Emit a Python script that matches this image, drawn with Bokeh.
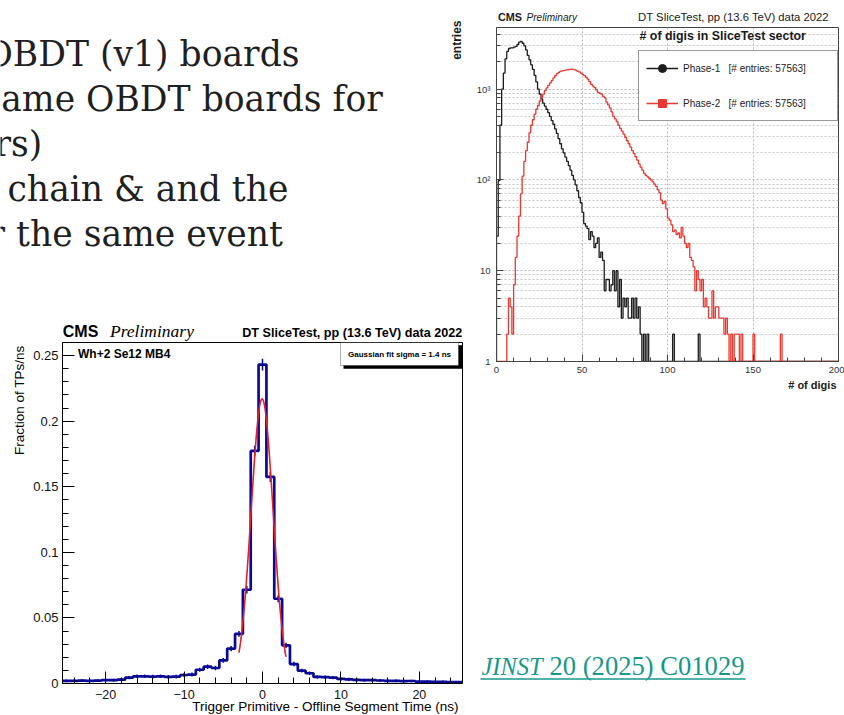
import math
import numpy as np
from bokeh.plotting import figure
from bokeh.layouts import column
from bokeh.models import (Range1d, Legend, LegendItem, BoxAnnotation, GridBox,
                          SingleIntervalTicker, FixedTicker, CustomJSTickFormatter,
                          ColumnDataSource)
from bokeh.core.properties import value
from bokeh.embed import file_html
from bokeh.resources import INLINE

# ---------------- slide text ----------------
slide_lines = ["OBDT (v1) boards", "same OBDT boards for", "rs)", "chain & and the", "r the same event"]
ref_italic = "JINST"
ref_rest = "20 (2025) C01029"

# ---------------- right chart: number of digis ----------------
digi_lo, digi_hi = 0, 200
phase1_counts = [
    24, 98, 400, 1000, 1500, 2150, 2600, 2800, 2850, 2850,
    2900, 2950, 3100, 3300, 3350, 3200, 3000, 2700, 2350, 2100,
    1850, 1650, 1420, 1200, 1000, 880, 780, 700, 650, 600,
    550, 500, 450, 410, 365, 325, 285, 250, 220, 198,
    178, 160, 144, 128, 112, 100, 88, 76, 64, 56,
    44, 33, 31, 29, 22, 27, 24, 18, 20, 23,
    14, 16, 13, 6, 8, 8, 6, 7, 10, 6,
    10, 4, 8, 3, 5, 4, 5, 3, 3, 5,
    3, 5, 3, 4, 2, 0, 2, 0, 2, 0,
    0, 0, 0, 0, 0, 0, 0, 0, 0, 0,
    0, 0, 0, 2, 0, 0, 0, 0, 0, 0,
    0, 0, 0, 0, 0, 0, 0, 0, 2, 0,
    0, 0, 0, 0, 0, 0, 0, 0, 0, 0,
    0, 0, 0, 0, 0, 0, 0, 0, 0, 0,
    0, 0, 0, 0, 0, 0, 0, 0, 0, 0,
    0, 0, 0, 0, 0, 0, 0, 0, 0, 0,
    0, 0, 0, 0, 0, 0, 0, 0, 0, 0,
    0, 0, 0, 0, 0, 0, 0, 0, 0, 0,
    0, 0, 0, 0, 0, 0, 0, 0, 0, 0,
    0, 0, 0, 0, 0, 0, 0, 0, 0, 0,
]
phase2_counts = [
    0, 0, 0, 0, 0, 0, 2, 5, 4, 2,
    7, 14, 24, 40, 70, 110, 160, 210, 260, 330,
    400, 460, 530, 600, 660, 740, 810, 880, 960, 1030,
    1100, 1170, 1240, 1330, 1410, 1480, 1530, 1570, 1590, 1600,
    1620, 1630, 1640, 1650, 1660, 1640, 1620, 1580, 1550, 1500,
    1450, 1410, 1350, 1290, 1210, 1130, 1080, 1040, 980, 920,
    900, 880, 830, 800, 720, 670, 620, 560, 500, 470,
    440, 400, 370, 345, 320, 295, 270, 250, 230, 210,
    195, 180, 165, 150, 138, 128, 118, 112, 108, 104,
    100, 95, 90, 85, 78, 72, 60, 55, 58, 48,
    38, 36, 32, 27, 28, 25, 26, 23, 30, 24,
    20, 18, 20, 14, 13, 11, 6, 10, 8, 6,
    8, 4, 5, 4, 3, 3, 6, 3, 4, 4,
    3, 3, 3, 2, 3, 2, 0, 2, 0, 2,
    2, 2, 0, 2, 0, 0, 0, 0, 0, 0,
    2, 0, 0, 0, 0, 0, 0, 0, 0, 0,
    0, 0, 0, 0, 0, 0, 2, 0, 0, 0,
    0, 0, 0, 0, 0, 0, 0, 0, 0, 0,
    0, 0, 0, 0, 0, 0, 0, 0, 0, 0,
    0, 0, 0, 0, 0, 0, 0, 0, 0, 0,
]
phase_labels = ["Phase-1   [# entries: 57563]", "Phase-2   [# entries: 57563]"]
right_title = "# of digis in SliceTest sector"
header_text = "DT SliceTest, pp (13.6 TeV) data 2022"
right_xlabel = "# of digis"
right_ylabel = "entries"
log_major = [1, 10, 100, 1000]
log_top = 4770

# ---------------- left chart: TP - segment time ----------------
dt_centers = list(range(-25, 26))
dt_fraction = [
    0.0020, 0.0020, 0.0022, 0.0020, 0.0022, 0.0025, 0.0025, 0.0030, 0.0045, 0.0055,
    0.0055, 0.0052, 0.0055, 0.0050, 0.0052, 0.0065, 0.0068, 0.0105, 0.0128, 0.0118,
    0.0177, 0.0266, 0.0378, 0.0715, 0.1773, 0.2432, 0.1575, 0.0646, 0.0291, 0.0148,
    0.0098, 0.0078, 0.0050, 0.0048, 0.0045, 0.0035, 0.0032, 0.0027, 0.0025, 0.0025,
    0.0023, 0.0020, 0.0020, 0.0018, 0.0019, 0.0014, 0.0015, 0.0013, 0.0012, 0.0010,
    0.0010,
]
dt_error = [
    0.0010, 0.0010, 0.0010, 0.0010, 0.0010, 0.0012, 0.0012, 0.0012, 0.0013, 0.0014,
    0.0014, 0.0014, 0.0014, 0.0014, 0.0014, 0.0015, 0.0015, 0.0016, 0.0017, 0.0017,
    0.0018, 0.0020, 0.0022, 0.0028, 0.0040, 0.0045, 0.0038, 0.0026, 0.0020, 0.0017,
    0.0015, 0.0014, 0.0013, 0.0013, 0.0013, 0.0012, 0.0012, 0.0012, 0.0011, 0.0011,
    0.0011, 0.0010, 0.0010, 0.0010, 0.0010, 0.0010, 0.0010, 0.0010, 0.0010, 0.0010,
    0.0010,
]
fit_amp, fit_mean, fit_sigma = 0.217, -0.05, 1.4
fit_lo, fit_hi = -3.0, 3.0
left_tag = "Wh+2 Se12 MB4"
fit_text = "Gaussian fit sigma = 1.4 ns"
left_xlabel = "Trigger Primitive - Offline Segment Time (ns)"
left_ylabel = "Fraction of TPs/ns"

# ---------------- styling ----------------
PAGE_W, PAGE_H = 844, 715
SANS = "Liberation Sans"
SERIF = "Liberation Serif"
TEAL = "#16988a"
BLUE = "#0a0a96"
FIT_RED = "#e3222b"
P1_COL = "#1c1c1c"
P2_COL = "#e8382f"
BASELINE_EM = 0.37   # measured offset of the rendered baseline below the anchor


def base_fig(**kw):
    f = figure(toolbar_location=None, output_backend="svg", **kw)
    f.title.visible = False
    f.border_fill_alpha = 0
    return f


# ================= right chart =================
RL, RR, RT, RB = 496, 838, 27, 361          # frame edges on the page
R_X, R_Y = 448, 0                            # figure origin on the page
rf = base_fig(width=PAGE_W - R_X, height=408, x_range=Range1d(digi_lo, digi_hi),
              y_range=Range1d(1, log_top), y_axis_type="log",
              min_border_left=RL - R_X, min_border_right=PAGE_W - RR,
              min_border_top=RT - R_Y, min_border_bottom=408 - RB)
rf.outline_line_color = "#444444"

edges = list(range(digi_lo, digi_hi + 1))
for counts, col in ((phase1_counts, P1_COL), (phase2_counts, P2_COL)):
    shown = [max(c, 1) for c in counts]
    rf.step(x=[edges[0]] + edges, y=[1] + shown + [shown[-1]], mode="after",
            line_color=col, line_width=1.3)

rf.xaxis.ticker = SingleIntervalTicker(interval=50, num_minor_ticks=5)
rf.yaxis.ticker = FixedTicker(ticks=log_major,
                              minor_ticks=[m * t for t in log_major for m in range(2, 10) if m * t < log_top])
rf.yaxis.formatter = CustomJSTickFormatter(code="""
const e = Math.round(Math.log10(tick));
if (e == 0) return "1";
if (e == 1) return "10";
const sup = {2: "\u00b2", 3: "\u00b3", 4: "\u2074"};
return "10" + sup[e];
""")
for ax in (rf.xaxis[0], rf.yaxis[0]):
    ax.major_tick_in = 7
    ax.major_tick_out = 0
    ax.minor_tick_in = 4
    ax.minor_tick_out = 0
    ax.axis_line_color = "#444444"
    ax.major_tick_line_color = "#444444"
    ax.minor_tick_line_color = "#444444"
    ax.major_label_text_font = SANS
    ax.major_label_text_font_size = "9.5px"
    ax.major_label_text_color = "#333333"
rf.xaxis.major_label_standoff = 5
rf.yaxis.major_label_standoff = 6
rf.xgrid.grid_line_color = "#b8b8b8"
rf.xgrid.grid_line_dash = "2 2"
rf.ygrid.grid_line_color = "#b8b8b8"
rf.ygrid.grid_line_dash = "2 2"
rf.ygrid.minor_grid_line_color = "#c4c4c4"
rf.ygrid.minor_grid_line_dash = "2 2"

# legend proxies: one point each, outside the visible ranges
proxy = ColumnDataSource(data=dict(x=[digi_lo - 50], y=[0.1]))
k_line = rf.line("x", "y", source=proxy, line_color=P1_COL, line_width=1.3)
k_mark = rf.scatter("x", "y", source=proxy, marker="circle", size=4.5, fill_color=P1_COL, line_color=P1_COL)
r_line = rf.line("x", "y", source=proxy, line_color=P2_COL, line_width=1.3)
r_mark = rf.scatter("x", "y", source=proxy, marker="square", size=4.5, fill_color=P2_COL, line_color=P2_COL)
legend = Legend(items=[LegendItem(label=phase_labels[0], renderers=[k_line, k_mark]),
                       LegendItem(label=phase_labels[1], renderers=[r_line, r_mark])],
                location=(638 - RL, RB - 121), padding=7, spacing=15, margin=0,
                glyph_width=32, glyph_height=20, label_height=20, label_width=147,
                label_standoff=5, label_text_font=SANS, label_text_font_size="10px",
                label_text_color="#222222", border_line_color="#333333", border_line_width=1,
                background_fill_color="white", background_fill_alpha=1)
rf.add_layout(legend, "center")

# ================= left chart =================
LL, LR, LT, LB = 62, 462, 342, 683
L_X, L_Y = 0, 312
X0, X1, Y0, Y1 = -25.5, 25.5, 0.0, 0.26
lf = base_fig(width=478, height=PAGE_H - L_Y, x_range=Range1d(X0, X1), y_range=Range1d(Y0, Y1),
              min_border_left=LL - L_X, min_border_right=478 - LR,
              min_border_top=LT - L_Y, min_border_bottom=PAGE_H - LB)
lf.outline_line_color = "black"
lf.grid.visible = False


def lx(px):
    return X0 + (px - LL) / (LR - LL) * (X1 - X0)


def ly(py):
    return Y0 + (LB - py) / (LB - LT) * (Y1 - Y0)


l_edges = [c - 0.5 for c in dt_centers] + [dt_centers[-1] + 0.5]
lf.step(x=l_edges, y=dt_fraction + [dt_fraction[-1]], mode="after", line_color=BLUE, line_width=2.7)
lf.segment(x0=dt_centers, x1=dt_centers,
           y0=[v - e for v, e in zip(dt_fraction, dt_error)],
           y1=[v + e for v, e in zip(dt_fraction, dt_error)],
           line_color=BLUE, line_width=1.5)
fx = np.linspace(fit_lo, fit_hi, 161)
fy = fit_amp * np.exp(-0.5 * ((fx - fit_mean) / fit_sigma) ** 2)
lf.line(fx, fy, line_color=FIT_RED, line_width=1.6)

lf.xaxis.ticker = SingleIntervalTicker(interval=10, num_minor_ticks=5)
lf.yaxis.ticker = SingleIntervalTicker(interval=0.05, num_minor_ticks=5)
lf.xaxis.formatter = CustomJSTickFormatter(
    code="return tick < 0 ? '\u2212' + Math.abs(tick) : String(tick);")
lf.yaxis.formatter = CustomJSTickFormatter(code="return String(Math.round(tick * 100) / 100);")
for ax in (lf.xaxis[0], lf.yaxis[0]):
    ax.major_tick_in = 12
    ax.major_tick_out = 0
    ax.minor_tick_in = 6
    ax.minor_tick_out = 0
    ax.axis_line_color = "black"
    ax.major_tick_line_color = "black"
    ax.minor_tick_line_color = "black"
    ax.major_label_text_font = SANS
    ax.major_label_text_color = "#111111"
lf.xaxis.major_label_text_font_size = "12.5px"
lf.yaxis.major_label_text_font_size = "13px"
lf.xaxis.major_label_standoff = 6
lf.yaxis.major_label_standoff = 4

# fit-result box with ROOT-style shadow
lf.add_layout(BoxAnnotation(left=lx(343), right=lx(461.5), top=ly(344.7), bottom=ly(368.3),
                            fill_color="black", fill_alpha=1, line_color="black", line_width=0))
lf.add_layout(BoxAnnotation(left=lx(340), right=lx(458), top=ly(342), bottom=ly(365),
                            fill_color="white", fill_alpha=1, line_color="black", line_width=1))

# ================= page overlay: all free-standing texts =================
ov = base_fig(width=PAGE_W, height=PAGE_H, x_range=Range1d(0, PAGE_W), y_range=Range1d(0, PAGE_H),
              x_axis_type=None, y_axis_type=None, min_border=0, outline_line_color=None)
ov.background_fill_alpha = 0


def put(x, y, text, font=SANS, size=12.0, style="normal", color="#111111",
        align="left", angle=0.0):
    """x, y: page position of the text baseline start (or end/centre per align)."""
    shift = BASELINE_EM * size
    if angle:
        x = x - shift
    else:
        y = y - shift
    ov.text(x=[x], y=[PAGE_H - y], text=[text], text_font=value(font), text_font_size=f"{size}px",
            text_font_style=style, text_color=color, text_align=align,
            text_baseline="alphabetic", angle=angle)


# slide bullets (clipped at the left page edge, as in the slide)
for tx, ty, line in zip([-16, -17, -6, 7, -12], [66, 111.5, 156.5, 201.5, 246.5], slide_lines):
    put(tx, ty, line, font="DejaVu Serif", size=34.6, color="#1f1f1f")

# reference link
put(481, 675, ref_italic, font=SERIF, size=24.5, style="italic", color=TEAL)
put(549, 675, ref_rest, font=SERIF, size=26.6, color=TEAL)
ov.segment(x0=[480], x1=[745], y0=[PAGE_H - 678.5], y1=[PAGE_H - 678.5], line_color=TEAL, line_width=1.6)

# right chart texts
put(497.5, 20.5, "CMS", size=10.8, style="bold", color="#1a1a1a")
put(526, 20.5, "Preliminary", size=10.1, style="italic", color="#1a1a1a")
put(828.5, 20.5, header_text, size=11.3, color="#1a1a1a", align="right")
put(639, 40.5, right_title, size=12.4, style="bold", color="#1a1a1a")
put(836, 389, right_xlabel, size=11, style="bold", color="#1a1a1a", align="right")
put(461, 20, right_ylabel, size=12, style="bold", color="#1a1a1a", align="right", angle=math.pi / 2)

# left chart texts
put(62.3, 336.7, "CMS", size=16, style="bold", color="black")
put(109.5, 336.7, "Preliminary", font=SERIF, size=17.5, style="italic", color="black")
put(461.7, 336.7, header_text, size=12.6, style="bold", color="black", align="right")
put(77.5, 357.5, left_tag, size=12, style="bold", color="black")
put(399, 356.5, fit_text, size=8, style="bold", color="black", align="center")
put(458.3, 710.5, left_xlabel, size=13.5, color="black", align="right")
put(24, 345, left_ylabel, size=13.5, color="black", align="right", angle=math.pi / 2)

# ================= page layout =================
# each figure sits in its own box so that the grid does not align their frames
children = [(column(rf), 0, 1, 2, 2), (column(lf), 1, 0, 2, 2), (column(ov), 0, 0, 3, 3)]
try:
    page = GridBox(children=children, rows=["312px", "96px", "307px"],
                   cols=["448px", "30px", "366px"], spacing=0)
except Exception:
    page = GridBox(children=children, spacing=0)

open("out.html", "w").write(file_html(page, INLINE))
